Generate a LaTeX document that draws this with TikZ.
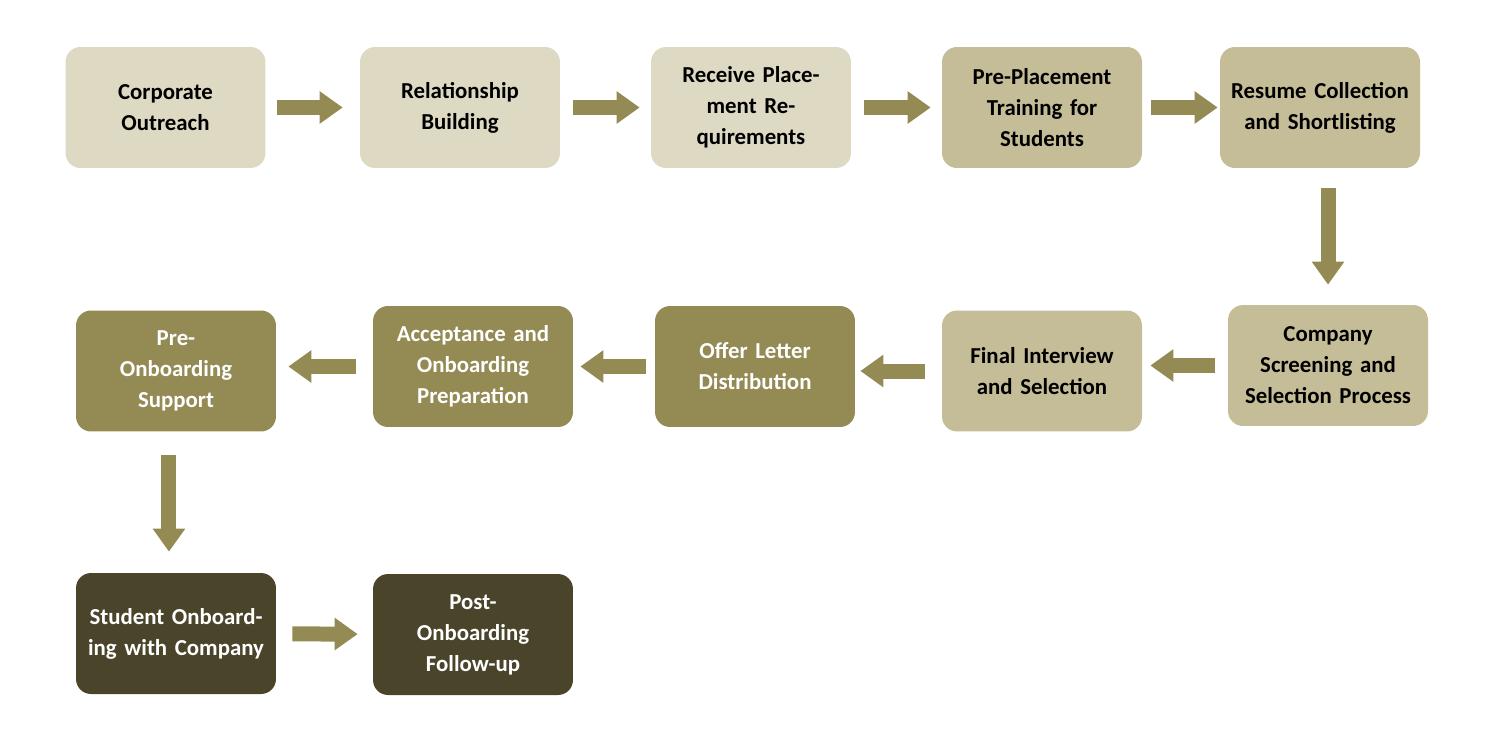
\documentclass[tikz,border=0pt]{standalone}
\usepackage{fontspec}
\setmainfont{Carlito}
\usetikzlibrary{arrows.meta}
\definecolor{tanA}{HTML}{DDD9C3}
\definecolor{tanB}{HTML}{C4BD97}
\definecolor{tanC}{HTML}{948A54}
\definecolor{tanD}{HTML}{4A452A}
\tikzset{
  stage/.style={rounded corners=0.3cm, minimum width=4cm, minimum height=2.42cm,
    text width=3.6cm, align=center, inner sep=0pt,
    font=\fontsize{13}{17.6}\selectfont\bfseries},
  light/.style={stage, fill=tanA},
  mid/.style={stage, fill=tanB},
  dark/.style={stage, fill=tanC, text=white},
  deep/.style={stage, fill=tanD, text=white},
  flow/.style={draw=tanC, line width=0.3cm,
    -{Triangle[width=0.62cm,length=0.46cm]}},
}
\begin{document}
\begin{tikzpicture}[x=0.02cm, y=-0.02cm]
\useasboundingbox (0,0) rectangle (1506,744);
\node[light] (co) at (165.5,107.5) {Corporate Outreach};
\node[light] (rb) at (460,107.5) {Relationship Building};
\node[light] (rp) at (751,107.5) {Receive Placement Requirements};
\node[mid] (pt) at (1042,107.5) {Pre-Placement Training for Students};
\node[mid] (rc) at (1320,107.5) {Resume Collection and Shortlisting};
\node[mid] (cs) at (1328,365.5) {Company Screening and Selection Process};
\node[mid] (fi) at (1042,371) {Final Interview and Selection};
\node[dark] (ol) at (755,366.5) {Offer Letter Distribution};
\node[dark] (ao) at (473,366.5) {Acceptance and Onboarding Preparation};
\node[dark] (po) at (176,371) {Pre-\\Onboarding Support};
\node[deep] (so) at (176,633.5) {Student Onboarding with Company};
\node[deep] (pf) at (473,634.5) {Post-\\Onboarding Follow-up};
% top row
\draw[flow, shorten <=0.22cm, shorten >=0.34cm] (co) -- (rb);
\draw[flow, shorten <=0.26cm, shorten >=0.22cm] (rb) -- (rp);
\draw[flow, shorten <=0.26cm, shorten >=0.22cm] (rp) -- (pt);
\draw[flow, shorten <=0.18cm, shorten >=0.04cm] (pt) -- (rc);
\draw[flow, shorten <=0.4cm, shorten >=0.4cm] (rc.south -| cs.north) -- (cs.north);
% middle row
\draw[flow, shorten <=0.26cm, shorten >=0.16cm] (cs.west) -- (cs.west -| fi.east);
\draw[flow, shorten <=0.34cm, shorten >=0.1cm] (fi.west) -- (fi.west -| ol.east);
\draw[flow, shorten <=0.18cm, shorten >=0.14cm] (ol.west) -- (ol.west -| ao.east);
\draw[flow, shorten <=0.34cm, shorten >=0.24cm] (ao.west) -- (ao.west -| po.east);
\draw[flow, shorten <=0.46cm, shorten >=0.42cm] ([xshift=-4]po.south) -- ([xshift=-4]so.north);
% bottom row
\draw[flow, shorten <=0.32cm, shorten >=0.3cm] (so) -- (pf);
\end{tikzpicture}
\end{document}
